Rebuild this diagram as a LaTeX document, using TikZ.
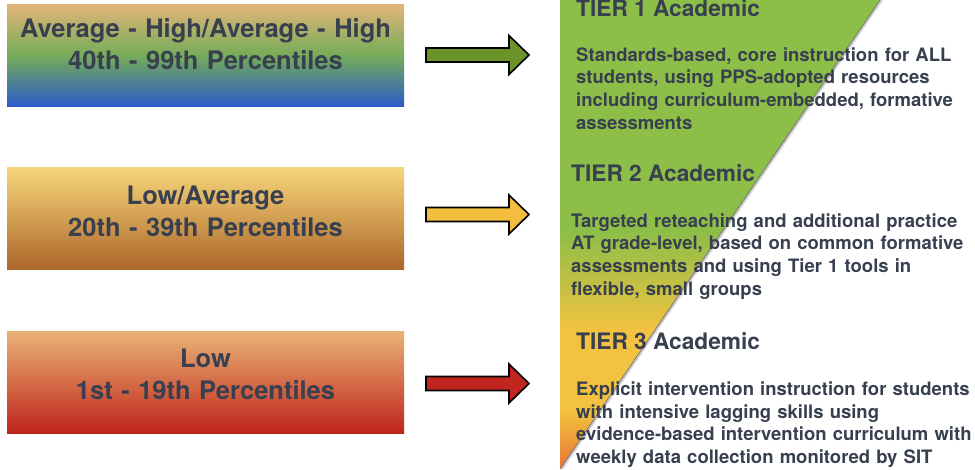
\documentclass[tikz,border=0pt]{standalone}
\usepackage{fontspec}
\setmainfont{TeX Gyre Heros}
\definecolor{ink}{RGB}{56,64,80}
\definecolor{tanA}{RGB}{228,180,122}
\definecolor{grnA}{RGB}{118,172,88}
\definecolor{bluA}{RGB}{44,92,200}
\definecolor{goldB}{RGB}{246,214,122}
\definecolor{brnB}{RGB}{172,102,42}
\definecolor{peachC}{RGB}{234,178,118}
\definecolor{redC}{RGB}{190,36,26}
\definecolor{tgreen}{RGB}{140,190,72}
\definecolor{tyellow}{RGB}{243,194,64}
\definecolor{torange}{RGB}{232,116,50}
\definecolor{agreen}{RGB}{108,146,42}
\definecolor{ayellow}{RGB}{243,190,62}
\definecolor{ared}{RGB}{192,38,30}
\begin{document}
\begin{tikzpicture}[x=1pt,y=-1pt,
  levelbox/.style={minimum width=397pt,minimum height=102pt,inner sep=0pt,draw=none},
  levellabel/.style={anchor=base,inner sep=0pt,text width=397pt,align=center,text=ink,
    font=\fontsize{25.5}{32}\selectfont\bfseries},
  tierhead/.style={anchor=base west,inner sep=0pt,text=ink,
    font=\fontsize{22.7}{26}\selectfont\bfseries},
  tierbody/.style={anchor=base west,inner sep=0pt,text width=400pt,align=left,text=ink,
    font=\fontsize{18.5}{22.7}\selectfont\bfseries},
  blockarrow/.style={draw=black,line width=1.6pt,line join=miter}]
\useasboundingbox (0,0) rectangle (975,469);

% performance bands
\node[levelbox,top color=tanA,bottom color=bluA,middle color=grnA] (band1) at (205.5,55) {};
\node[levelbox,top color=goldB,bottom color=brnB] (band2) at (205.5,218.5) {};
\node[levelbox,top color=peachC,bottom color=redC] (band3) at (205.5,382.5) {};

\node[levellabel] (lab1) at (205.5,37) {Average - High/Average - High\\40th - 99th Percentiles};
\node[levellabel] (lab2) at (205.5,204) {Low/Average\\20th - 39th Percentiles};
\node[levellabel] (lab3) at (205.5,367) {Low\\1st - 19th Percentiles};

% block arrows
\foreach \cy/\col in {55/agreen,214.5/ayellow,383.5/ared}{
  \draw[blockarrow,fill=\col] (426,\cy-7) -- (509,\cy-7) -- (509,\cy-19.5) -- (529,\cy)
    -- (509,\cy+19.5) -- (509,\cy+7) -- (426,\cy+7) -- cycle;
}

% tier triangle
\coordinate (triTL) at (560,0);
\coordinate (triTR) at (880,0);
\coordinate (triB) at (560,469);
\begin{scope}
  \clip (triTL) -- (triTR) -- (triB) -- cycle;
  \fill[tgreen] (560,0) rectangle (880,231);
  \shade[top color=tgreen,bottom color=tyellow] (560,230) rectangle (880,331);
  \fill[tyellow] (560,330) rectangle (880,411);
  \shade[top color=tyellow,bottom color=torange] (560,410) rectangle (880,470);
\end{scope}
\foreach \d/\op in {1.2/0.25,2.2/0.12,3.2/0.05}{
  \draw[black,opacity=\op,line width=1pt] ([xshift=\d pt]triTR) -- ([xshift=\d pt]triB);
}
\draw[black!60,line width=0.6pt] (triTR) -- (triB);

% tier descriptions
\node[tierhead] (tier1) at (576,16) {TIER 1 Academic};
\node[tierbody] (desc1) at (576,61) {Standards-based, core instruction for ALL\\students, using PPS-adopted resources\\including curriculum-embedded, formative\\assessments};
\node[tierhead] (tier2) at (571,181) {TIER 2 Academic};
\node[tierbody] (desc2) at (571,227) {Targeted reteaching and additional practice\\AT grade-level, based on common formative\\assessments and using Tier 1 tools in\\flexible, small groups};
\node[tierhead] (tier3) at (576,349.5) {TIER 3 Academic};
\node[tierbody] (desc3) at (576,395.5) {Explicit intervention instruction for students\\with intensive lagging skills using\\evidence-based intervention curriculum with\\weekly data collection monitored by SIT};
\end{tikzpicture}
\end{document}
